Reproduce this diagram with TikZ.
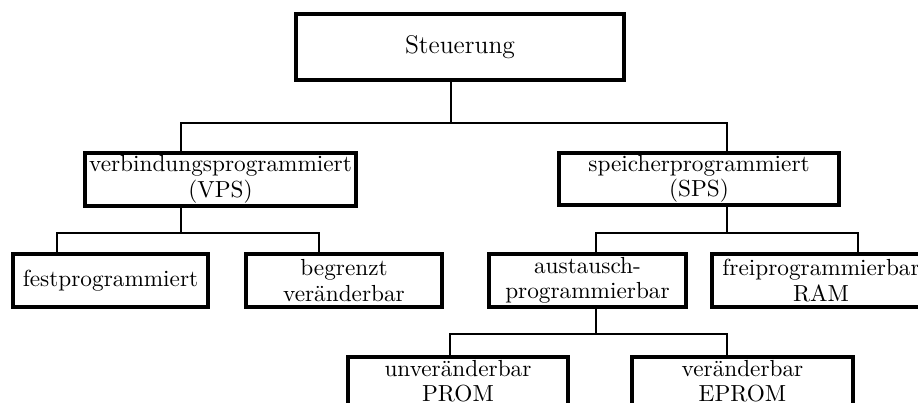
\documentclass[tikz,border=0pt]{standalone}
\begin{document}
\begin{tikzpicture}[x=0.43pt,y=-0.43pt,
  txt/.style={inner sep=0pt,align=center,font=\fontsize{10}{11}\selectfont},
  box/.style={txt,draw,line width=1.4pt,rectangle},
  sz/.style 2 args={minimum width=#1*0.43pt,minimum height=#2*0.43pt},
  conn/.style={line width=0.8pt}]
\useasboundingbox (0,0) rectangle (918,403);
\clip (0,0) rectangle (918,403);

% boxes of the tree
\node[box,sz={328}{66},font=\fontsize{11}{13}\selectfont] (steuer) at (460,47) {Steuerung};
\node[box,sz={271}{53}] (vps) at (220.5,179.5) {verbindungsprogrammiert\\(VPS)};
\node[box,sz={280}{52}] (sps) at (699,179) {speicherprogrammiert\\(SPS)};
\node[box,sz={195}{53}] (fest) at (110.5,280.5) {festprogrammiert};
\node[box,sz={196}{53}] (beg) at (344,280.5) {begrenzt\\veränderbar};
\node[box,sz={197}{53}] (aus) at (587.5,280.5) {austausch-\\programmierbar};
\node[box,sz={218}{53}] (frei) at (821,280.5) {freiprogrammierbar\\RAM};
\node[box,sz={220}{60}] (unv) at (458,387) {};
\node[box,sz={221}{60}] (ver) at (742.5,387) {};
\node[txt,anchor=north] (unvt) at ([yshift=-1.9pt]unv.north) {unveränderbar\\PROM};
\node[txt,anchor=north] (vert) at ([yshift=-1.9pt]ver.north) {veränderbar\\EPROM};

% junction points of the branches
\coordinate (t0) at (451,123);
\coordinate (t1) at (181,233);
\coordinate (t2) at (727,233);
\coordinate (t3) at (596,334);
\coordinate (f1) at (57,233);
\coordinate (f2) at (319,233);
\coordinate (a2) at (858,233);
\coordinate (u1) at (450,334);

% level 1
\draw[conn] (steuer.south -| t0) -- (t0);
\draw[conn] (vps.north -| t1) -- (t1 |- t0) -- (t2 |- t0) -- (sps.north -| t2);
% under VPS
\draw[conn] (vps.south -| t1) -- (t1);
\draw[conn] (fest.north -| f1) -- (f1) -- (f2) -- (beg.north -| f2);
% under SPS
\draw[conn] (sps.south -| t2) -- (t2);
\draw[conn] (aus.north -| t3) -- (t3 |- t2) -- (a2) -- (frei.north -| a2);
% under austauschprogrammierbar
\draw[conn] (aus.south -| t3) -- (t3);
\draw[conn] (unv.north -| u1) -- (u1) -- (t2 |- t3) -- (ver.north -| t2);
\end{tikzpicture}
\end{document}
